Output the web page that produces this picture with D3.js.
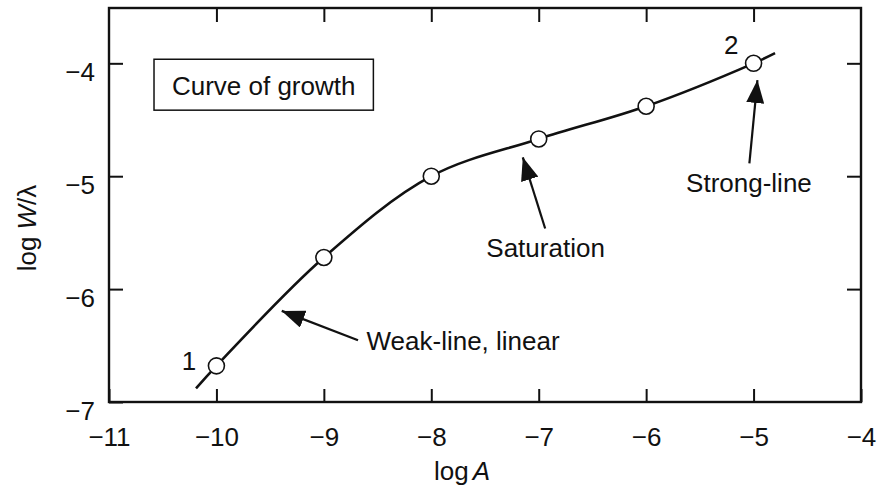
<!DOCTYPE html>
<html>
<head>
<meta charset="utf-8">
<script src="https://cdn.jsdelivr.net/npm/d3@7"></script>
<style>
  body { margin: 0; background: #fff; }
  svg text { font-family: "Liberation Sans", Arial, sans-serif; fill: #111; }
</style>
</head>
<body>
<svg id="chart" width="888" height="489"></svg>
<script>
// values
const xTicks = [-11, -10, -9, -8, -7, -6, -5, -4];
const yTicks = [-7, -6, -5, -4];
const logA = [-10, -9, -8, -7, -6, -5];
const logW = [-6.68, -5.72, -5.00, -4.67, -4.38, -4.00];
const curveA = [-10.19, -10, -9, -8, -7, -6, -5, -4.80];
const curveW = [-6.88, -6.68, -5.72, -5.00, -4.67, -4.38, -4.00, -3.91];

const pointLabels = [
    { text: "1", a: -10.255, w: -6.72 },
    { text: "2", a: -5.209, w: -3.918 }
];

const arrows = [
    { text: "Weak-line, linear", tip: [-9.392, -6.193], tail: [-8.682, -6.453], lab: [-8.603, -6.542], anchor: "start" },
    { text: "Saturation", tip: [-7.148, -4.833], tail: [-6.940, -5.463], lab: [-6.936, -5.715], anchor: "middle" },
    { text: "Strong-line", tip: [-4.964, -4.148], tail: [-5.039, -4.886], lab: [-5.043, -5.138], anchor: "middle" }
];

const fs = "26px";
const margin = {top: 8, right: 27, bottom: 87, left: 109};
const width = 888 - margin.left - margin.right;
const height = 489 - margin.top - margin.bottom;

const svg = d3.select("#chart");
const g = svg.append("g").attr("transform", "translate(" + margin.left + "," + margin.top + ")");

const x = d3.scaleLinear().domain([-11, -4]).range([0, width]);
const y = d3.scaleLinear().domain([-7, -3.51]).range([height, 0]);

const fmt = d3.format("d");

// axes: ticks point inward on all four sides
const xb = g.append("g").attr("transform", "translate(0," + height + ")")
    .call(d3.axisBottom(x).tickValues(xTicks).tickFormat(fmt).tickSizeInner(-13).tickSizeOuter(0).tickPadding(26));
const xt = g.append("g")
    .call(d3.axisTop(x).tickValues(xTicks.slice(1, -1)).tickFormat("").tickSizeInner(-14).tickSizeOuter(0));
const yl = g.append("g")
    .call(d3.axisLeft(y).tickValues(yTicks).tickFormat(fmt).tickSizeInner(-14).tickSizeOuter(0).tickPadding(14));
const yr = g.append("g").attr("transform", "translate(" + width + ",0)")
    .call(d3.axisRight(y).tickValues(yTicks.slice(1)).tickFormat("").tickSizeInner(-14).tickSizeOuter(0));

[xb, xt, yl, yr].forEach(function(ax) {
    ax.select(".domain").remove();
    ax.selectAll("line").attr("stroke", "#111").attr("stroke-width", 2);
    ax.selectAll("text").style("font-size", fs).attr("fill", "#111");
});
yl.selectAll("text").attr("dy", "0.66em");

g.append("rect")
    .attr("x", 0).attr("y", 0)
    .attr("width", width).attr("height", height)
    .attr("fill", "none").attr("stroke", "#111").attr("stroke-width", 2.4);

// axis titles
svg.append("text")
    .attr("x", 462).attr("y", 480)
    .attr("text-anchor", "middle")
    .style("font-size", fs)
    .html('log<tspan dx="4" font-style="italic">A</tspan>');

svg.append("text")
    .attr("transform", "translate(36,228) rotate(-90)")
    .attr("text-anchor", "middle")
    .style("font-size", fs)
    .html('log <tspan font-style="italic">W</tspan>/λ');

// title box
const boxL = x(-10.581), boxT = y(-3.964), boxR = x(-8.539), boxB = y(-4.415);
g.append("rect")
    .attr("x", boxL).attr("y", boxT)
    .attr("width", boxR - boxL).attr("height", boxB - boxT)
    .attr("fill", "#fff").attr("stroke", "#111").attr("stroke-width", 1.5);
g.append("text")
    .attr("x", (boxL + boxR) / 2).attr("y", y(-4.285))
    .attr("text-anchor", "middle")
    .style("font-size", fs)
    .text("Curve of growth");

// curve of growth
const curveData = d3.zip(curveA, curveW);
const line = d3.line()
    .x(function(d) { return x(d[0]); })
    .y(function(d) { return y(d[1]); })
    .curve(d3.curveCatmullRom.alpha(0.5));

g.append("path")
    .datum(curveData)
    .attr("d", line)
    .attr("fill", "none")
    .attr("stroke", "#111")
    .attr("stroke-width", 2.6);

g.selectAll(".pt")
    .data(d3.zip(logA, logW))
    .enter()
    .append("circle")
    .attr("class", "pt")
    .attr("cx", function(d) { return x(d[0]); })
    .attr("cy", function(d) { return y(d[1]); })
    .attr("r", 8)
    .attr("fill", "#fff")
    .attr("stroke", "#111")
    .attr("stroke-width", 1.6);

g.selectAll(".plab")
    .data(pointLabels)
    .enter()
    .append("text")
    .attr("class", "plab")
    .attr("x", function(d) { return x(d.a); })
    .attr("y", function(d) { return y(d.w); })
    .attr("text-anchor", "middle")
    .style("font-size", fs)
    .text(function(d) { return d.text; });

// annotation arrows
svg.append("defs").append("marker")
    .attr("id", "head")
    .attr("viewBox", "0 0 23 18")
    .attr("refX", 23).attr("refY", 9)
    .attr("markerWidth", 23).attr("markerHeight", 18)
    .attr("markerUnits", "userSpaceOnUse")
    .attr("orient", "auto")
    .append("path")
    .attr("d", "M0,0L23,9L0,18Z")
    .attr("fill", "#111");

const ann = g.selectAll(".ann").data(arrows).enter().append("g").attr("class", "ann");
ann.append("line")
    .attr("x1", function(d) { return x(d.tail[0]); })
    .attr("y1", function(d) { return y(d.tail[1]); })
    .attr("x2", function(d) { return x(d.tip[0]); })
    .attr("y2", function(d) { return y(d.tip[1]); })
    .attr("stroke", "#111")
    .attr("stroke-width", 2.2)
    .attr("marker-end", "url(#head)");
ann.append("text")
    .attr("x", function(d) { return x(d.lab[0]); })
    .attr("y", function(d) { return y(d.lab[1]); })
    .attr("text-anchor", function(d) { return d.anchor; })
    .style("font-size", fs)
    .text(function(d) { return d.text; });
</script>
</body>
</html>
